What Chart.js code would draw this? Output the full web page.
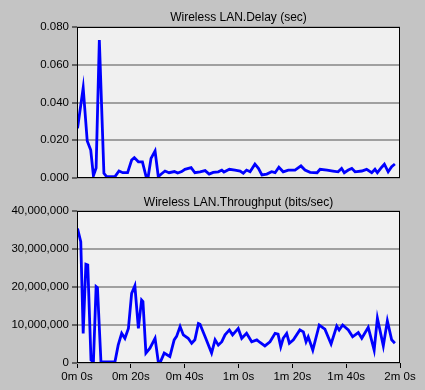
<!DOCTYPE html>
<html>
<head>
<meta charset="utf-8">
<script src="https://cdn.jsdelivr.net/npm/chart.js@4/dist/chart.umd.min.js"></script>
<style>
  html, body { margin: 0; padding: 0; background: #c4c4c4; }
  #wrap { position: relative; width: 425px; height: 390px; }
  .box { position: absolute; left: 0; width: 425px; height: 195px; }
</style>
</head>
<body>
<div id="wrap">
  <div class="box" style="top:0"><canvas id="delayChart" width="425" height="195"></canvas></div>
  <div class="box" style="top:195px"><canvas id="tputChart" width="425" height="195"></canvas></div>
</div>
<script>
// time in seconds
const delayTimes = [0.2, 2.3, 3.8, 5.1, 6.1, 7.1, 8.3, 10.0, 11.0, 14.1, 15.6, 17.0, 18.8, 20.3, 21.3, 22.8, 24.3, 25.6, 26.5, 27.5,
  29.0, 30.2, 31.2, 32.7, 34.2, 36.2, 37.4, 38.9, 40.1, 42.4, 43.8, 45.7, 47.6, 49.1, 50.6, 52.5, 53.8, 54.6, 56.6, 58.7,
  60.6, 61.8, 63.0, 64.3, 66.1, 67.4, 68.7, 70.5, 72.3, 73.6, 75.0, 76.6, 78.5, 81.0, 83.2, 84.7, 86.6, 89.2, 90.3, 92.9,
  95.1, 97.0, 98.3, 99.3, 100.8, 102.1, 103.3, 105.8, 107.6, 109.5, 110.7, 111.6, 113.2, 114.2, 115.6, 116.9, 118.1];
const delayValues = [0.0263, 0.0478, 0.0196, 0.0148, 0.0012, 0.0053, 0.0731, 0.0025, 0.0007, 0.0007, 0.0037, 0.0028, 0.0028, 0.0095, 0.0108, 0.0086, 0.0085, 0.0012, 0.0012, 0.0104,
  0.0143, 0.0007, 0.0020, 0.0037, 0.0028, 0.0034, 0.0026, 0.0034, 0.0046, 0.0055, 0.0028, 0.0033, 0.0039, 0.0021, 0.0030, 0.0033, 0.0042, 0.0032, 0.0046, 0.0042,
  0.0037, 0.0025, 0.0042, 0.0033, 0.0073, 0.0051, 0.0016, 0.0021, 0.0033, 0.0028, 0.0057, 0.0033, 0.0042, 0.0042, 0.0064, 0.0042, 0.0030, 0.0028, 0.0046, 0.0042,
  0.0037, 0.0033, 0.0051, 0.0028, 0.0042, 0.0051, 0.0033, 0.0037, 0.0046, 0.0028, 0.0046, 0.0028, 0.0057, 0.0073, 0.0033, 0.0060, 0.0074];

const tputTimes = [0.2, 1.4, 2.3, 3.3, 4.0, 5.2, 6.1, 7.1, 7.6, 8.9, 14.1, 15.3, 16.6, 17.8, 19.1, 20.3, 21.5, 22.8, 24.0, 24.5,
  25.6, 27.1, 29.0, 30.2, 31.0, 32.4, 34.5, 36.1, 37.0, 38.3, 39.5, 41.3, 42.6, 43.8, 45.1, 45.7, 47.6, 50.0, 51.3, 52.5,
  53.8, 55.0, 56.6, 57.8, 59.9, 61.2, 63.0, 64.9, 66.8, 68.0, 69.8, 71.7, 73.6, 74.7, 75.7, 76.6, 77.9, 78.9, 80.4, 82.8,
  84.1, 85.1, 85.9, 87.6, 90.0, 92.1, 94.4, 96.5, 97.4, 98.7, 100.8, 102.4, 104.5, 105.8, 108.2, 110.4, 111.6, 113.8, 115.3, 116.9, 118.1];
const tputValues = [35400000, 31900000, 7800000, 26000000, 25800000, 800000, 300000, 20100000, 19800000, 300000, 300000, 4700000, 7800000, 6500000, 9100000, 18300000, 20300000, 9100000, 16600000, 16200000,
  2600000, 3900000, 6500000, 300000, 300000, 2600000, 1700000, 6100000, 7000000, 9600000, 7400000, 6500000, 5200000, 6100000, 10400000, 10200000, 6900000, 2600000, 6100000, 4700000,
  5600000, 7400000, 8700000, 7400000, 9100000, 6500000, 7800000, 5600000, 6100000, 5400000, 4500000, 5600000, 7800000, 7600000, 4300000, 6500000, 7800000, 5200000, 6100000, 8700000,
  8200000, 5600000, 6900000, 3400000, 10000000, 8900000, 5000000, 9700000, 8700000, 10000000, 8700000, 6900000, 8000000, 6500000, 9400000, 3400000, 11800000, 4500000, 11100000, 6100000, 5200000];

const xTicks = [0, 20, 40, 60, 80, 100, 120];

Chart.defaults.font.family = '"Liberation Sans", Arial, sans-serif';
Chart.defaults.color = '#000';

const plotFrame = {
  id: 'plotFrame',
  beforeDraw(chart) {
    const { ctx, chartArea: a } = chart;
    ctx.save();
    ctx.fillStyle = '#f0f0f0';
    ctx.fillRect(a.left, a.top, a.right - a.left, a.bottom - a.top);
    ctx.restore();
  },
  afterDraw(chart) {
    const { ctx, chartArea: a } = chart;
    ctx.save();
    ctx.strokeStyle = '#000';
    ctx.lineWidth = 1;
    ctx.strokeRect(a.left + 0.5, a.top + 0.5, a.right - a.left - 1, a.bottom - a.top - 1);
    ctx.restore();
  }
};

function fmtTime(v) {
  return Math.floor(v / 60) + 'm ' + (v % 60) + 's';
}

function makeChart(id, title, times, values, yMax, yStep, yFmt, showX, titlePad) {
  return new Chart(document.getElementById(id), {
    type: 'line',
    data: {
      datasets: [{
        data: times.map((t, i) => ({ x: t, y: values[i] })),
        borderColor: '#0000ff',
        borderWidth: 2.8,
        pointRadius: 0,
        tension: 0,
        fill: false
      }]
    },
    options: {
      responsive: false,
      animation: false,
      layout: { padding: { left: 0, right: 25, top: 0, bottom: 0 } },
      plugins: {
        legend: { display: false },
        tooltip: { enabled: false },
        title: {
          display: true,
          text: title,
          fullSize: false,
          font: { size: 12, weight: 'normal' },
          padding: titlePad
        }
      },
      scales: {
        x: {
          type: 'linear',
          min: 0,
          max: 120,
          afterBuildTicks: s => { s.ticks = xTicks.map(v => ({ value: v })); },
          afterFit: s => { s.height = showX ? 27 : 17; },
          border: { display: false },
          grid: { drawOnChartArea: false, drawTicks: showX, tickLength: 5, tickColor: '#000', tickWidth: 1 },
          ticks: { display: showX, maxRotation: 0, autoSkip: false, padding: 2, font: { size: 11.5 }, callback: fmtTime }
        },
        y: {
          min: 0,
          max: yMax,
          afterFit: s => { s.width = 77; },
          border: { display: false },
          grid: { color: '#a0a0a0', lineWidth: 2, tickLength: 5, tickColor: '#000', tickWidth: 1 },
          ticks: { stepSize: yStep, padding: 3, font: { size: 11.5 }, callback: yFmt }
        }
      }
    },
    plugins: [plotFrame]
  });
}

makeChart('delayChart', 'Wireless LAN.Delay (sec)', delayTimes, delayValues,
  0.08, 0.02, v => v.toFixed(3), false, { top: 10.5, bottom: 2.1 });
makeChart('tputChart', 'Wireless LAN.Throughput (bits/sec)', tputTimes, tputValues,
  40000000, 10000000, v => v.toLocaleString('en-US'), true, { top: 0.5, bottom: 1.1 });
</script>
</body>
</html>
